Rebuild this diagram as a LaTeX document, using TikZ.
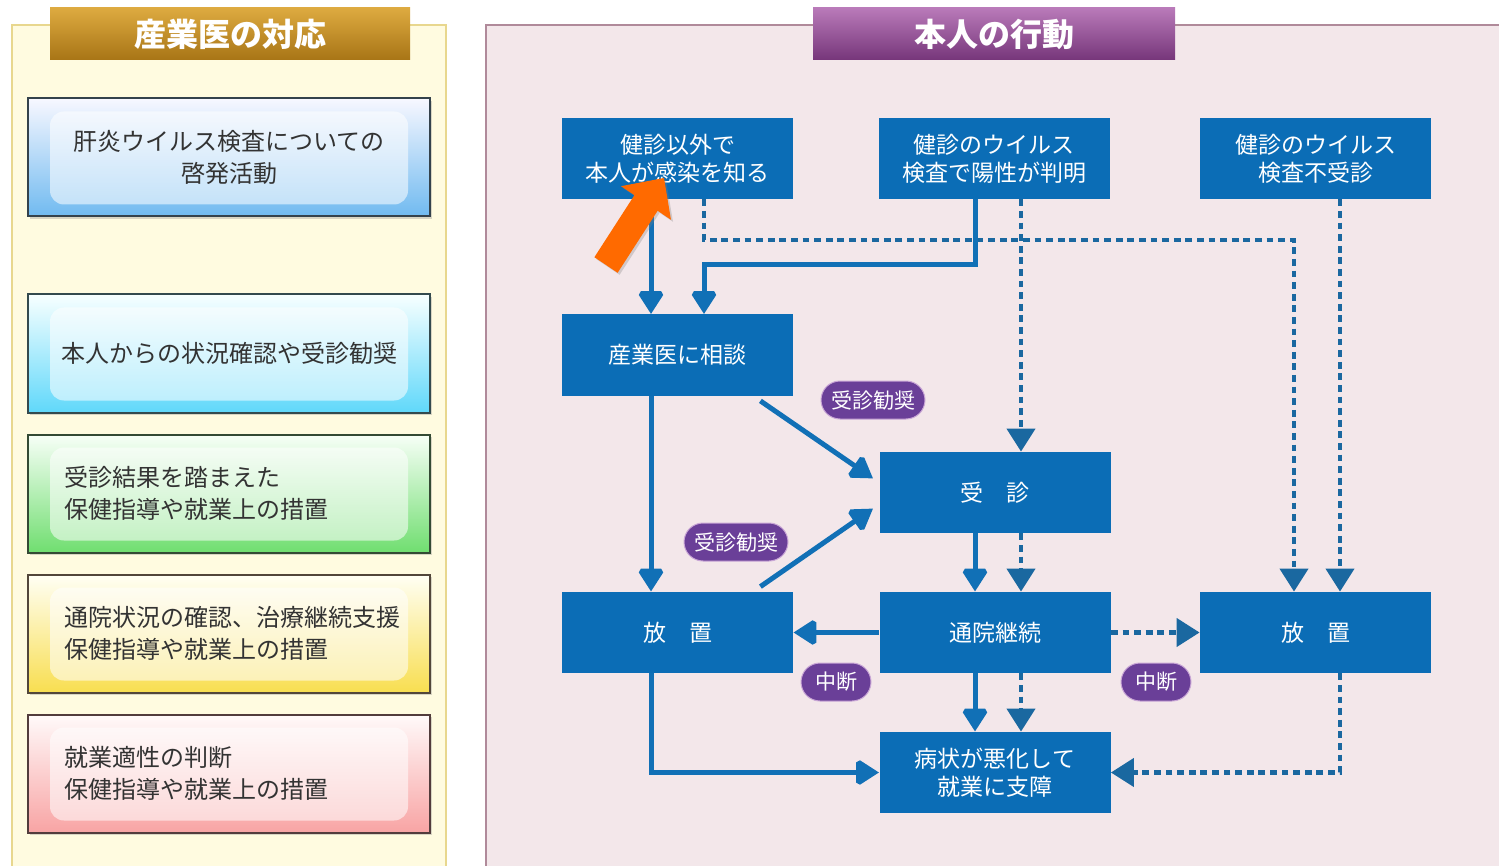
\documentclass[tikz,border=0pt]{standalone}
\usepackage{fontspec}
\setmainfont{Noto Sans CJK JP}
\usetikzlibrary{arrows.meta,calc,shadows}
\definecolor{flowblue}{HTML}{0B6DB6}
\definecolor{linkblue}{HTML}{1170B6}
\definecolor{dashblue}{HTML}{1A68A0}
\definecolor{pillpurple}{HTML}{6A3F98}
\definecolor{pilledge}{HTML}{C9A6D6}
\definecolor{orangearrow}{HTML}{FF6A00}
\definecolor{leftpanel}{HTML}{FFFBE0}
\definecolor{leftpanelline}{HTML}{E8D78E}
\definecolor{rightpanel}{HTML}{F3E7EA}
\definecolor{rightpanelline}{HTML}{B08A9A}
\definecolor{goldtop}{HTML}{DDAA40}
\definecolor{goldbot}{HTML}{A87516}
\definecolor{purptop}{HTML}{B97AB9}
\definecolor{purpbot}{HTML}{76367A}
\definecolor{lefttext}{HTML}{333333}
\definecolor{edgeA}{HTML}{34424C}
\definecolor{edgeB}{HTML}{344A4E}
\definecolor{edgeC}{HTML}{344A34}
\definecolor{edgeD}{HTML}{52463A}
\definecolor{edgeE}{HTML}{523C3C}
\tikzset{
  flowbox/.style={rectangle, fill=flowblue, text=white, minimum width=115.5pt,
    minimum height=40.5pt, align=center, inner sep=0pt,
    font=\fontsize{11.5}{14}\selectfont},
  pill/.style={rectangle, rounded corners=9.5pt, fill=pillpurple, draw=pilledge,
    line width=0.5pt, text=white, minimum height=19pt, inner xsep=5pt, inner ysep=0pt,
    font=\fontsize{10.5}{12}\selectfont},
  sol/.style={draw=linkblue, line width=2.5pt, miter limit=2,
    -{Triangle[width=14pt,length=11.5pt]}},
  dsh/.style={draw=dashblue, line width=2.1pt, dash pattern=on 3.4pt off 2.4pt,
    -{Triangle[width=14pt,length=11.5pt]}},
  header/.style={rectangle, minimum width=180pt, minimum height=26pt, inner sep=0pt,
    text=white, font=\fontsize{16}{18}\bfseries\selectfont},
  lbox/.style={rectangle, line width=1pt, minimum width=201pt, minimum height=59pt,
    inner ysep=0pt, text=lefttext, font=\fontsize{12}{16}\selectfont,
    drop shadow={opacity=0.3, shadow xshift=1.2pt, shadow yshift=-1.2pt},
    path picture={\fill[white, opacity=0.55, rounded corners=7pt]
      ($(path picture bounding box.south west)+(22,-12)$) rectangle
      ($(path picture bounding box.north east)+(-22,13)$);}},
  lboxc/.style={lbox, align=center, text width=187pt, inner xsep=7pt},
  lboxl/.style={lbox, align=left, text width=165pt, inner xsep=18pt},
}
\begin{document}
\begin{tikzpicture}[x=0.5pt, y=-0.5pt]
\useasboundingbox (0,0) rectangle (1499,866);
\fill[white] (0,0) rectangle (1499,866);
% panels
\draw[draw=leftpanelline, fill=leftpanel, line width=0.8pt] (12,25) rectangle (446,880);
\draw[draw=rightpanelline, fill=rightpanel, line width=0.6pt] (486,25) rectangle (1510,880);
% headers
\node[header, top color=goldtop, bottom color=goldbot] (hl) at (230,34) {産業医の対応};
\node[header, top color=purptop, bottom color=purpbot, minimum width=181pt] (hr) at (994,34) {本人の行動};
% left boxes
\node[lboxc, draw=edgeA, top color=blue!3, bottom color={rgb,255:red,112;green,186;blue,240}] (L1) at (229,157.5)
  {\raisebox{-2pt}{\parbox{187pt}{\centering 肝炎ウイルス検査についての\\啓発活動}}};
\node[lboxc, draw=edgeB, top color=cyan!3, bottom color={rgb,255:red,96;green,216;blue,250}] (L2) at (229,353.5)
  {本人からの状況確認や受診勧奨};
\node[lboxl, draw=edgeC, top color=green!3, bottom color={rgb,255:red,112;green,222;blue,112}] (L3) at (229,493.5)
  {受診結果を踏まえた\\保健指導や就業上の措置};
\node[lboxl, draw=edgeD, top color=yellow!4, bottom color={rgb,255:red,248;green,222;blue,80}] (L4) at (229,633.5)
  {通院状況の確認、治療継続支援\\保健指導や就業上の措置};
\node[lboxl, draw=edgeE, top color=red!2, bottom color={rgb,255:red,248;green,164;blue,164}] (L5) at (229,773.5)
  {就業適性の判断\\保健指導や就業上の措置};
% flow boxes
\node[flowbox] (A) at (677.5,158.5) {健診以外で\\本人が感染を知る};
\node[flowbox] (B) at (994,158.5) {健診のウイルス\\検査で陽性が判明};
\node[flowbox] (C) at (1315.5,158.5) {健診のウイルス\\検査不受診};
\node[flowbox] (D) at (677.5,355) {産業医に相談};
\node[flowbox] (E) at (995,492.5) {受　診};
\node[flowbox] (F) at (677.5,632.5) {放　置};
\node[flowbox] (G) at (995,632.5) {通院継続};
\node[flowbox] (H) at (1315.5,632.5) {放　置};
\node[flowbox] (I) at (995,772.5) {病状が悪化して\\就業に支障};
% helper coordinates
\coordinate (cL1) at (651,0);
\coordinate (cL2) at (704,0);
\coordinate (cM1) at (975,0);
\coordinate (cM2) at (1021,0);
\coordinate (cR1) at (1294,0);
\coordinate (cR2) at (1340,0);
\coordinate (kA) at (704,240);
\coordinate (kB) at (975,265);
% connectors
\draw[dsh] (A.south -| cL2) -- (kA) -| (H.north -| cR1);
\draw[dsh] (B.south -| cM2) -- (E.north -| cM2);
\draw[dsh] (C.south -| cR2) -- (H.north -| cR2);
\draw[sol] (A.south -| cL1) -- (D.north -| cL1);
\draw[sol] (B.south -| cM1) -- (kB) -| (D.north -| cL2);
\draw[sol] (D.south -| cL1) -- (F.north -| cL1);
\draw[sol] ($(D.south east)+(-33,5)$) -- ($(E.west)+(-6,-14)$);
\draw[sol] ($(F.north east)+(-33,-5)$) -- ($(E.west)+(-6,16)$);
\draw[sol] (E.south -| cM1) -- (G.north -| cM1);
\draw[dsh] (E.south -| cM2) -- (G.north -| cM2);
\draw[sol] (G.west) -- (F.east);
\draw[dsh] (G.east) -- (H.west);
\draw[sol] (G.south -| cM1) -- (I.north -| cM1);
\draw[dsh] (G.south -| cM2) -- (I.north -| cM2);
\draw[sol] (F.south -| cL1) |- (I.west);
\draw[dsh] (H.south -| cR2) |- (I.east);
% labels
\node[pill] (p1) at (873,400) {受診勧奨};
\node[pill] (p2) at (736,542) {受診勧奨};
\node[pill, minimum width=35pt] (p3) at (836,682) {中断};
\node[pill, minimum width=35pt] (p4) at (1156,682) {中断};
% orange pointer arrow
\fill[orangearrow, drop shadow={opacity=0.3, shadow xshift=1pt, shadow yshift=-1pt}]
  (594.4,257.2) -- (634.4,195.2) -- (621,186.2) -- (664,178) -- (671,219.8)
  -- (657.6,210.8) -- (617.6,272.8) -- cycle;
\end{tikzpicture}
\end{document}
